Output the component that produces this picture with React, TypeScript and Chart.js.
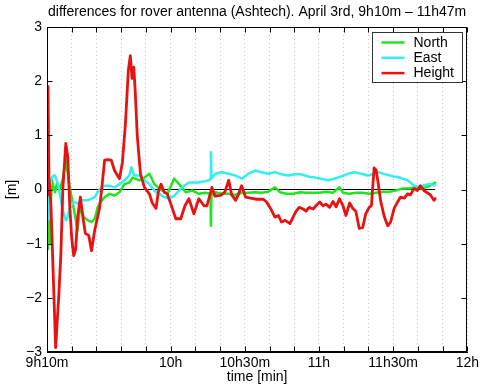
import React, { useEffect, useRef } from 'react';
import { Chart, registerables } from 'chart.js';

Chart.register(...registerables);

// minutes after 9h10m
const northT = [0, 0.4, 0.8, 1.2, 1.6, 2.0, 3.2, 4.0, 5.2, 6.4, 7.6, 9.2, 11.2, 12.4, 13.3, 14.9, 16.5, 18.1, 19.3, 20.5, 21.3, 23.3, 25.3, 27.3, 29.3, 31.3, 33.3, 34.7, 37.3, 39.4, 41.4, 43.4, 45.4, 46.7, 48.7, 51.4, 53.4, 56.1, 58.8, 61.4, 64.1, 66.1, 66.3, 66.5, 68.1, 70.7, 73.5, 76.1, 78.8, 81.4, 84.1, 86.8, 89.5, 92.2, 94.2, 96.9, 99.6, 102.3, 104.9, 107.6, 110.3, 112.9, 115.6, 118.3, 119.7, 122.3, 125.0, 127.7, 130.4, 133.1, 135.7, 138.4, 141.1, 143.8, 146.5, 149.2, 151.9, 154.5, 157.0];
const northV = [0.0, -1.1, -0.4, -1.0, -0.2, 0.17, -0.05, 0.1, 0.0, 0.2, 0.54, 0.04, -0.45, -0.76, -0.33, -0.51, -0.57, -0.6, -0.54, -0.33, -0.26, -0.14, -0.08, -0.11, -0.05, 0.1, 0.13, 0.22, 0.17, 0.22, 0.29, 0.1, 0.02, -0.02, -0.08, 0.2, 0.1, -0.05, -0.02, -0.08, -0.06, -0.08, -0.67, -0.1, -0.05, -0.08, -0.08, -0.1, -0.06, -0.06, -0.05, -0.06, -0.04, 0.04, -0.05, -0.08, -0.08, -0.05, -0.06, -0.06, -0.06, -0.04, -0.06, 0.04, -0.06, -0.08, -0.06, -0.06, -0.08, -0.06, -0.04, -0.04, -0.02, 0.02, 0.02, 0.04, 0.02, 0.06, 0.13];

const eastT = [0, 0.4, 0.8, 1.2, 1.6, 2.4, 3.2, 4.4, 5.2, 6.4, 7.6, 8.4, 9.2, 10.8, 12.4, 14.1, 16.5, 19.3, 21.3, 23.3, 25.3, 27.3, 29.3, 31.3, 33.3, 34.1, 35.3, 37.3, 39.4, 41.4, 43.4, 45.4, 47.4, 49.4, 51.4, 53.4, 55.4, 57.4, 59.4, 61.4, 63.5, 65.5, 66.2, 66.3, 66.5, 67.5, 68.1, 70.7, 73.4, 76.1, 78.8, 81.4, 84.1, 86.8, 89.5, 92.2, 94.9, 97.6, 100.3, 102.9, 105.6, 108.3, 111.0, 113.7, 116.3, 119.0, 121.7, 124.4, 127.1, 129.8, 132.5, 134.0, 136.9, 140.2, 141.8, 145.8, 148.5, 151.1, 152.5, 154.5, 157.0];
const eastV = [0.45, -0.2, -0.55, -0.1, 0.2, 0.25, 0.26, 0.1, -0.08, -0.39, -0.57, -0.5, -0.33, -0.23, -0.26, -0.2, -0.2, -0.14, 0.0, 0.07, 0.07, 0.04, 0.1, 0.17, 0.26, 0.41, 0.26, 0.26, 0.17, 0.1, -0.02, -0.08, -0.14, -0.16, -0.12, -0.02, 0.07, 0.13, 0.13, 0.13, 0.15, 0.17, 0.2, 0.69, 0.2, 0.26, 0.29, 0.32, 0.29, 0.26, 0.2, 0.29, 0.35, 0.32, 0.29, 0.32, 0.28, 0.26, 0.28, 0.28, 0.24, 0.22, 0.2, 0.17, 0.2, 0.24, 0.29, 0.32, 0.29, 0.26, 0.29, 0.32, 0.28, 0.24, 0.23, 0.17, 0.07, 0.04, 0.08, 0.1, 0.08];

const heightT = [0, 0.4, 0.8, 1.2, 1.6, 3.5, 4.8, 5.6, 6.4, 7.6, 8.4, 9.2, 10.0, 10.8, 11.6, 12.4, 13.5, 14.5, 15.5, 16.9, 18.0, 19.3, 20.5, 21.3, 22.1, 23.3, 24.5, 26.0, 27.3, 29.3, 30.5, 31.7, 32.9, 33.7, 34.4, 35.1, 35.7, 36.5, 37.8, 39.4, 41.4, 42.6, 44.1, 45.0, 46.1, 47.4, 48.6, 50.1, 52.1, 54.1, 55.8, 57.4, 59.4, 61.4, 63.5, 64.7, 66.7, 67.9, 70.2, 71.9, 73.5, 74.7, 76.3, 77.5, 78.7, 80.3, 82.3, 84.7, 87.5, 88.8, 90.4, 92.2, 93.6, 94.8, 96.3, 98.3, 99.6, 100.8, 102.0, 103.6, 104.8, 106.0, 107.6, 108.8, 110.3, 111.6, 112.8, 114.3, 115.7, 116.9, 118.3, 119.7, 120.9, 122.4, 123.7, 124.9, 126.3, 127.7, 128.9, 130.3, 131.2, 132.3, 133.1, 134.0, 134.9, 136.4, 137.8, 139.0, 140.4, 141.8, 143.0, 144.5, 145.8, 147.0, 148.5, 149.8, 151.0, 152.5, 153.8, 155.1, 156.5, 157.0];
const heightV = [-0.1, 1.9, 0.2, 0.0, -0.3, -2.92, -1.93, -1.2, 0.0, 0.85, 0.6, -0.3, -0.9, -1.22, -1.1, -0.5, -0.14, -0.5, -0.81, -0.85, -1.13, -0.75, -0.5, -0.33, 0.0, 0.54, 0.55, 0.54, 0.35, 0.2, 0.5, 1.2, 2.2, 2.47, 2.05, 2.26, 1.8, 1.0, 0.29, 0.04, -0.08, -0.25, -0.35, -0.05, 0.1, -0.05, -0.08, -0.27, -0.54, -0.54, -0.3, -0.17, -0.45, -0.17, -0.3, -0.3, 0.04, -0.12, -0.11, -0.05, 0.17, -0.1, -0.2, -0.08, 0.07, -0.14, -0.16, -0.18, -0.18, -0.23, -0.35, -0.51, -0.48, -0.6, -0.57, -0.63, -0.5, -0.4, -0.33, -0.36, -0.4, -0.33, -0.36, -0.3, -0.23, -0.3, -0.27, -0.33, -0.22, -0.32, -0.17, -0.3, -0.48, -0.25, -0.35, -0.4, -0.72, -0.7, -0.45, -0.33, -0.3, 0.4, 0.36, 0.1, -0.2, -0.5, -0.67, -0.6, -0.35, -0.23, -0.14, -0.16, -0.08, -0.1, 0.02, -0.02, 0.07, -0.02, -0.06, -0.1, -0.2, -0.17];

const zeroT = [0, 157];
const zeroV = [0, 0];

const seriesLabels = ['North', 'East', 'Height'];
const seriesColors = ['#1ee61e', '#33eef0', '#e81212'];

const xTickLabels: Record<number, string> = { 0: '9h10m', 50: '10h', 80: '10h30m', 110: '11h', 140: '11h30m', 170: '12h' };
const yTicks = [-3, -2, -1, 0, 1, 2, 3];

const titleText = 'differences for rover antenna (Ashtech). April 3rd, 9h10m \u2013 11h47m';
const xTitle = 'time [min]';
const yTitle = '[m]';

const FONT = '"Liberation Sans", Arial, Helvetica, sans-serif';

const toXY = (t: number[], v: number[]) => t.map((tt, i) => ({ x: tt, y: v[i] }));

const framePlugin = {
  id: 'frameAndLegend',
  afterDraw(chart: any) {
    const { ctx, chartArea, scales } = chart;
    const { left, right, top, bottom } = chartArea;
    const xs = scales.x;
    const ys = scales.y;
    ctx.save();
    ctx.strokeStyle = '#000';
    ctx.lineWidth = 1;
    const L = Math.round(left) + 0.5;
    const R = Math.round(right) - 0.5;
    const T = Math.round(top) + 0.5;
    const B = Math.round(bottom) - 0.5;
    ctx.strokeRect(L, T, R - L, B - T);
    ctx.beginPath();
    for (let v = 0; v <= 170; v += 10) {
      const px = Math.round(xs.getPixelForValue(v)) + 0.5;
      ctx.moveTo(px, B); ctx.lineTo(px, B - 5);
      ctx.moveTo(px, T); ctx.lineTo(px, T + 5);
    }
    for (const v of yTicks) {
      const py = Math.round(ys.getPixelForValue(v)) + 0.5;
      ctx.moveTo(L, py); ctx.lineTo(L + 5, py);
      ctx.moveTo(R, py); ctx.lineTo(R - 5, py);
    }
    ctx.stroke();

    // title
    ctx.fillStyle = '#000';
    ctx.font = `14px ${FONT}`;
    ctx.textAlign = 'center';
    ctx.textBaseline = 'middle';
    ctx.fillText(titleText, (left + right) / 2, 12);

    // legend
    const bx = Math.round(right) - 95 + 0.5;
    const by = Math.round(top) + 5 + 0.5;
    const bw = 90;
    const bh = 50;
    ctx.fillStyle = '#fff';
    ctx.fillRect(bx, by, bw, bh);
    ctx.strokeStyle = '#333';
    ctx.strokeRect(bx, by, bw, bh);
    ctx.font = `14px ${FONT}`;
    ctx.textAlign = 'left';
    seriesLabels.forEach((lab, i) => {
      const yy = by + 10 + i * 15.3;
      ctx.strokeStyle = seriesColors[i];
      ctx.lineWidth = 2.5;
      ctx.beginPath();
      ctx.moveTo(bx + 9, yy);
      ctx.lineTo(bx + 32, yy);
      ctx.stroke();
      ctx.fillStyle = '#000';
      ctx.fillText(lab, bx + 41, yy + 0.5);
    });
    ctx.restore();
  },
};

export default function App() {
  const ref = useRef<HTMLCanvasElement | null>(null);
  useEffect(() => {
    if (!ref.current) return;
    const lineStyle = { pointRadius: 0, borderJoinStyle: 'round', borderCapStyle: 'round' };
    const chart = new Chart(ref.current, {
      type: 'line',
      data: {
        datasets: [
          { label: 'zero', data: toXY(zeroT, zeroV), borderColor: '#000', borderWidth: 1, pointRadius: 0, order: 4 },
          { label: seriesLabels[0], data: toXY(northT, northV), borderColor: seriesColors[0], borderWidth: 2.5, order: 3, ...lineStyle },
          { label: seriesLabels[1], data: toXY(eastT, eastV), borderColor: seriesColors[1], borderWidth: 2.5, order: 2, ...lineStyle },
          { label: seriesLabels[2], data: toXY(heightT, heightV), borderColor: seriesColors[2], borderWidth: 2.8, order: 1, ...lineStyle },
        ],
      },
      options: {
        animation: false,
        responsive: false,
        maintainAspectRatio: false,
        layout: { padding: { left: 0, right: 11, top: 27, bottom: 0 } },
        plugins: { legend: { display: false }, title: { display: false }, tooltip: { enabled: false } },
        elements: { line: { tension: 0 } },
        scales: {
          x: {
            type: 'linear',
            min: 0,
            max: 170,
            afterFit: (s: any) => { s.height = 38; },
            ticks: {
              stepSize: 10,
              autoSkip: false,
              maxRotation: 0,
              padding: 3,
              color: '#000',
              font: { family: FONT, size: 14 },
              callback: (v: any) => xTickLabels[Math.round(Number(v))] ?? '',
            },
            grid: { display: true, drawTicks: false, color: '#c8c8c8', lineWidth: 1 },
            border: { display: true, color: '#000', dash: [1, 3] },
            title: { display: true, text: xTitle, color: '#000', font: { family: FONT, size: 14 }, padding: { top: 0, bottom: 4 } },
          },
          y: {
            type: 'linear',
            min: -3,
            max: 3,
            afterFit: (s: any) => { s.width = 47; },
            ticks: {
              stepSize: 1,
              padding: 5,
              color: '#000',
              font: { family: FONT, size: 14 },
              callback: (v: any) => (Number(v) < 0 ? '\u2212' + Math.abs(Number(v)) : String(v)),
            },
            grid: { display: false, drawTicks: false },
            border: { display: true, color: '#000' },
            title: { display: true, text: yTitle, color: '#000', font: { family: FONT, size: 14 }, padding: { top: 4, bottom: 0 } },
          },
        },
      },
      plugins: [framePlugin],
    } as any);
    return () => chart.destroy();
  }, []);
  return (
    <div style={{ position: 'absolute', left: 0, top: 0, width: 482, height: 390, background: '#fff' }}>
      <canvas ref={ref} width={482} height={390} style={{ width: 482, height: 390 }} />
    </div>
  );
}
